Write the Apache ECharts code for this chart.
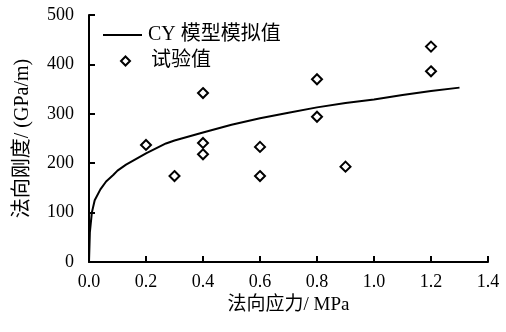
<!DOCTYPE html>
<html><head><meta charset="utf-8">
<script src="https://cdn.jsdelivr.net/npm/echarts@6/dist/echarts.min.js"></script>
<style>html,body{margin:0;padding:0;background:#fff}#c{width:506px;height:332px}</style>
</head><body><div id="c"></div>
<script>
const curveX = [0, 0.003, 0.01, 0.02, 0.04, 0.06, 0.085, 0.1, 0.13, 0.2, 0.27, 0.3, 0.4, 0.5, 0.6, 0.7, 0.8, 0.9, 1.0, 1.1, 1.2, 1.3];
const curveY = [0, 60, 100, 125, 147, 163, 176, 185, 197, 220, 240, 246, 262, 278, 291, 302, 313, 322, 329, 338, 346, 353];
const testX = [0.2, 0.3, 0.4, 0.4, 0.4, 0.6, 0.6, 0.8, 0.8, 0.9, 1.2, 1.2];
const testY = [237, 174, 342, 241, 218, 233, 174, 370, 294, 193, 436, 386];
const lineName = 'CY 模型模拟值';
const scatterName = '试验值';
const font = "'Liberation Serif','Times New Roman','Noto Sans CJK SC',serif";

const chart = echarts.init(document.getElementById('c'));
chart.setOption({
  animation: false,
  backgroundColor: '#fff',
  textStyle: { fontFamily: font, color: '#000' },
  grid: { left: 89, right: 18, top: 15, bottom: 70, containLabel: false },
  legend: [
    { data: [lineName], left: 98, top: 20, icon: 'rect', itemWidth: 39, itemHeight: 2,
      textStyle: { fontSize: 20, color: '#000', fontFamily: font, padding: [0,0,0,1] } },
    { data: [scatterName], left: 115, top: 46, itemWidth: 9, itemHeight: 9,
      textStyle: { fontSize: 20, color: '#000', fontFamily: font, padding: [0,0,0,16] } }
  ],
  xAxis: {
    type: 'value', min: 0, max: 1.4, interval: 0.2,
    name: '法向应力/ MPa', nameLocation: 'middle', nameGap: 31,
    nameTextStyle: { fontSize: 19, color: '#000', fontFamily: font },
    axisLine: { show: true, lineStyle: { color: '#000', width: 2 } },
    axisTick: { show: true, inside: true, length: 6, lineStyle: { color: '#000', width: 2 } },
    axisLabel: { fontSize: 18, color: '#000', fontFamily: font, margin: 11, formatter: v => v.toFixed(1) },
    splitLine: { show: false }
  },
  yAxis: {
    type: 'value', min: 0, max: 500, interval: 100,
    name: '法向刚度/ (GPa/m)', nameLocation: 'middle', nameGap: 56, nameRotate: 90,
    nameTextStyle: { fontSize: 20, color: '#000', fontFamily: font },
    axisLine: { show: true, lineStyle: { color: '#000', width: 2 } },
    axisTick: { show: true, inside: true, length: 6, lineStyle: { color: '#000', width: 2 } },
    axisLabel: { fontSize: 18, color: '#000', fontFamily: font, margin: 15 },
    splitLine: { show: false }
  },
  series: [
    { name: lineName, type: 'line', showSymbol: false, smooth: false,
      data: curveX.map((x, i) => [x, curveY[i]]),
      lineStyle: { color: '#000', width: 2 }, itemStyle: { color: '#000' } },
    { name: scatterName, type: 'scatter', symbol: 'diamond', symbolSize: 10,
      data: testX.map((x, i) => [x, testY[i]]),
      itemStyle: { color: '#fff', borderColor: '#000', borderWidth: 2, opacity: 1 } }
  ]
});
</script></body></html>
